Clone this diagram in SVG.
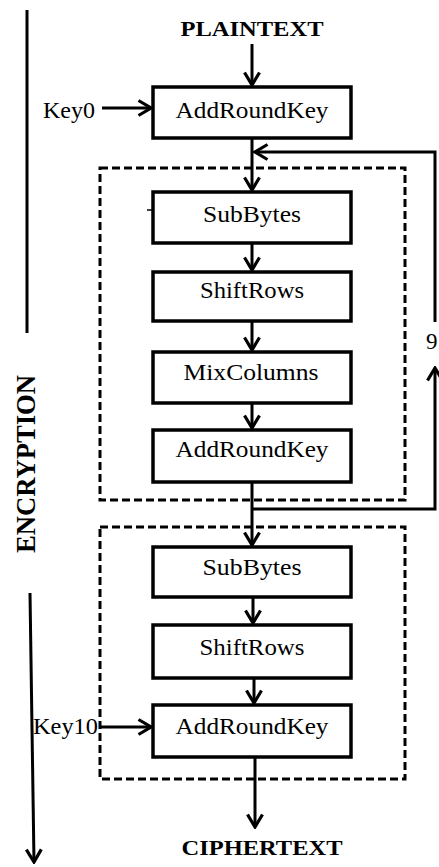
<svg xmlns="http://www.w3.org/2000/svg" width="439" height="867" viewBox="0 0 439 867">
<style>
.box{fill:#fff;stroke:#000;stroke-width:3.5}
.dash{fill:none;stroke:#000;stroke-width:3;stroke-dasharray:8 4}
.ln{fill:none;stroke:#000;stroke-width:3}
.t{font-family:"Liberation Serif","Times New Roman",serif;font-size:23px;fill:#000;text-anchor:middle}
.b{font-family:"Liberation Serif","Times New Roman",serif;font-weight:bold;fill:#000;text-anchor:middle}
.k{font-family:"Liberation Serif","Times New Roman",serif;font-size:23px;fill:#000}
</style>
<defs>
<marker id="ah" viewBox="0 0 16 18" refX="14" refY="9" markerWidth="16" markerHeight="18" markerUnits="userSpaceOnUse" orient="auto">
<path d="M1.5,1.5 L14,9 L1.5,16.5" fill="none" stroke="#000" stroke-width="3.2"/>
</marker>
</defs>
<rect width="439" height="867" fill="#fff"/>
<g id="rounds">
<rect id="round-loop" class="dash" x="100" y="168" width="305" height="332"/>
<rect id="round-final" class="dash" x="100" y="527" width="305" height="252"/>
</g>
<g id="connectors">
<line class="ln" x1="27" y1="10" x2="27" y2="333"/>
<line class="ln" x1="30" y1="593" x2="34" y2="862" marker-end="url(#ah)"/>
<line class="ln" x1="252" y1="44" x2="252" y2="85" marker-end="url(#ah)"/>
<line class="ln" x1="102" y1="108" x2="151" y2="108" marker-end="url(#ah)"/>
<line class="ln" x1="252" y1="139" x2="252" y2="190" marker-end="url(#ah)"/>
<polyline class="ln" points="435,322 435,152 255,152" marker-end="url(#ah)"/>
<polyline class="ln" points="252,509 435,509 435,368" marker-end="url(#ah)"/>
<line class="ln" x1="252" y1="244" x2="252" y2="270" marker-end="url(#ah)"/>
<line class="ln" x1="252" y1="322" x2="252" y2="350" marker-end="url(#ah)"/>
<line class="ln" x1="252" y1="404" x2="252" y2="428" marker-end="url(#ah)"/>
<line class="ln" x1="252" y1="483" x2="252" y2="545" marker-end="url(#ah)"/>
<line class="ln" x1="253" y1="598" x2="253" y2="623" marker-end="url(#ah)"/>
<line class="ln" x1="254" y1="679" x2="254" y2="703" marker-end="url(#ah)"/>
<line class="ln" x1="101" y1="727" x2="151" y2="727" marker-end="url(#ah)"/>
<line class="ln" x1="255" y1="758" x2="255" y2="827" marker-end="url(#ah)"/>
<line x1="147" y1="210" x2="153" y2="210" stroke="#000" stroke-width="1.5"/>
</g>
<g id="labels">
<text class="b" x="252" y="36" font-size="21" textLength="143" lengthAdjust="spacingAndGlyphs">PLAINTEXT</text>
<text class="b" x="262" y="855" font-size="22" textLength="161" lengthAdjust="spacingAndGlyphs">CIPHERTEXT</text>
<text class="b" font-size="27" textLength="178" lengthAdjust="spacingAndGlyphs" transform="translate(35,464) rotate(-90)">ENCRYPTION</text>
<text class="k" x="43" y="118" textLength="52" lengthAdjust="spacingAndGlyphs">Key0</text>
<text class="k" x="33" y="734" textLength="65" lengthAdjust="spacingAndGlyphs">Key10</text>
<text class="k" x="426" y="349">9</text>
</g>
<g id="ark0"><rect class="box" x="153" y="87" width="198" height="51"/><text class="t" x="252" y="118" textLength="153" lengthAdjust="spacingAndGlyphs">AddRoundKey</text></g>
<g id="subbytes1"><rect class="box" x="153" y="192" width="198" height="51"/><text class="t" x="252" y="222" textLength="98" lengthAdjust="spacingAndGlyphs">SubBytes</text></g>
<g id="shiftrows1"><rect class="box" x="153" y="272" width="198" height="49"/><text class="t" x="252" y="298" textLength="104" lengthAdjust="spacingAndGlyphs">ShiftRows</text></g>
<g id="mixcolumns"><rect class="box" x="153" y="352" width="198" height="51"/><text class="t" x="251" y="380" textLength="135" lengthAdjust="spacingAndGlyphs">MixColumns</text></g>
<g id="ark1"><rect class="box" x="153" y="430" width="198" height="52"/><text class="t" x="252" y="457" textLength="153" lengthAdjust="spacingAndGlyphs">AddRoundKey</text></g>
<g id="subbytes2"><rect class="box" x="153" y="547" width="198" height="50"/><text class="t" x="252" y="575" textLength="99" lengthAdjust="spacingAndGlyphs">SubBytes</text></g>
<g id="shiftrows2"><rect class="box" x="153" y="625" width="198" height="53"/><text class="t" x="252" y="655" textLength="105" lengthAdjust="spacingAndGlyphs">ShiftRows</text></g>
<g id="ark10"><rect class="box" x="153" y="705" width="198" height="52"/><text class="t" x="252" y="734" textLength="153" lengthAdjust="spacingAndGlyphs">AddRoundKey</text></g>
</svg>
